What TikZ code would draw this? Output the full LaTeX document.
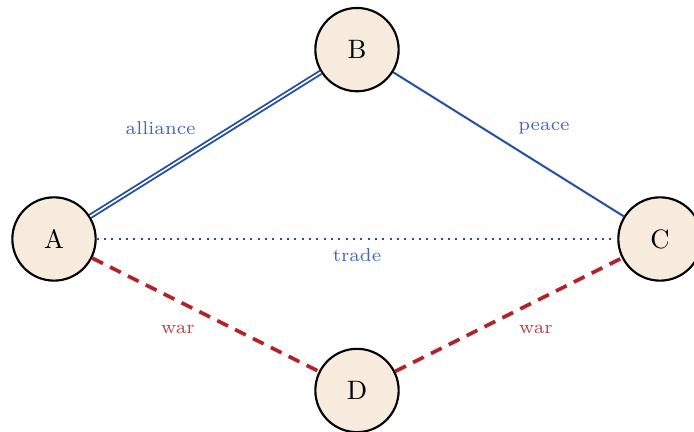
\documentclass[tikz,border=0pt]{standalone}
\usepackage{xcolor}
\usepackage{tikz}
\usetikzlibrary{automata,arrows,positioning,calc}
\definecolor{nodefill}{RGB}{246,235,220}
\definecolor{tieblue}{RGB}{35,80,160}
\definecolor{labblue}{RGB}{65,105,180}
\definecolor{warred}{RGB}{178,34,40}
\definecolor{labred}{RGB}{190,65,65}

\begin{document}
\begin{tikzpicture}[auto, semithick, on grid, node distance=4cm]
	\tikzstyle{every state}=[fill=nodefill,draw=black,thick,text=black,minimum size=1.1cm,inner sep=0pt]
	\tikzstyle{tie}=[draw=tieblue,line width=0.75pt]
	\tikzstyle{war}=[draw=warred,line width=1.4pt,dash pattern=on 4.5pt off 3pt]
	\tikzstyle{bluelab}=[text=labblue,font=\scriptsize]
	\tikzstyle{redlab}=[text=labred,font=\scriptsize]
	\useasboundingbox (-4.713,-2.548) rectangle (4.449,3.155);
	\node[state]    (A) at (-4,0)      {A};
	\node[state]    (B)[above right=2.5cm and 4cm of A]   {B};
	\node[state]    (C)[below right=2.5cm and 4cm of B]   {C};
	\node[state]    (D)[below right=2cm and 4cm of A]     {D};
	
	\path
	(A) edge[tie, double=white, double distance=0.6pt, line width=0.7pt]
		node[bluelab, above left]	{alliance}	(B)
	(B) edge[tie]	node[bluelab, above right]	{peace}	(C)
	(A) edge[tie, dotted, thick]	node[bluelab, below]	{trade}	(C);
	
	\path
	(A) edge[war]	node[redlab, below left]	{war}	(D)
	(D) edge[war]	node[redlab, below right]	{war}	(C);
\end{tikzpicture}
\end{document}
